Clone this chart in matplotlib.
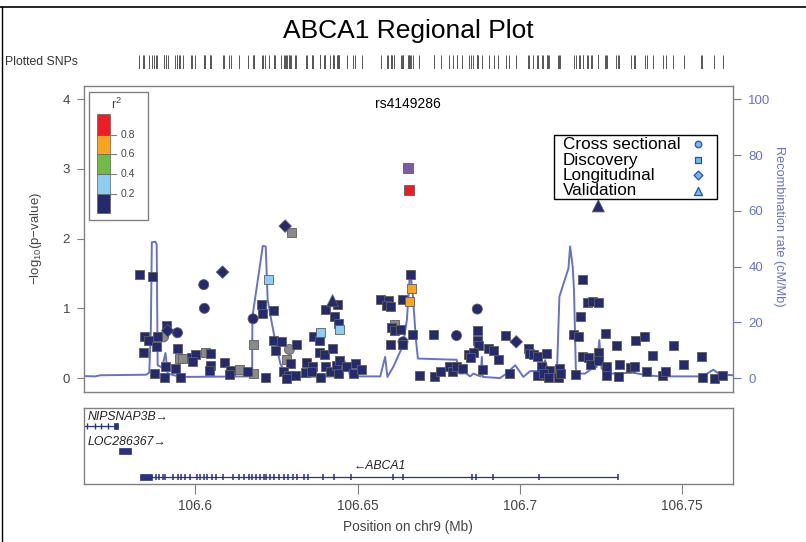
import numpy as np
import matplotlib
matplotlib.use("Agg")
import matplotlib.pyplot as plt
from matplotlib.lines import Line2D
from matplotlib.patches import Rectangle
import matplotlib.transforms as mtransforms

plt.rcParams['font.family'] = ['Liberation Sans', 'DejaVu Sans']
plt.rcParams['mathtext.fontset'] = 'custom'
plt.rcParams['mathtext.rm'] = 'Liberation Sans'
plt.rcParams['mathtext.it'] = 'Liberation Sans:italic'

# ---------------- data ----------------
# r2 = nan -> no LD information (grey)
disc_pos = [106.5828, 106.5867, 106.5843, 106.5856, 106.5882, 106.5880, 106.5839, 106.5874,
            106.5911, 106.5944, 106.5950, 106.5962, 106.5988, 106.6000, 106.5990,
            106.6031, 106.6048, 106.6046, 106.6044, 106.5905, 106.5909, 106.5938, 106.5954,
            106.6089, 106.6110, 106.6104, 106.6136, 106.6161, 106.6180, 106.6215,
            106.6205, 106.6208, 106.6241, 106.6226, 106.6180,
            106.6241, 106.6265, 106.6247, 106.6311, 106.6280, 106.6293, 106.6272, 106.6288,
            106.6308, 106.6344, 106.6361, 106.6341, 106.6359, 106.6282,
            106.6364, 106.6385, 106.6383, 106.6383, 106.6295, 106.6443,
            106.6400, 106.6439, 106.6428, 106.6441, 106.6398, 106.6424,
            106.6385, 106.6400, 106.6416, 106.6436, 106.6441, 106.6444, 106.6467, 106.6487,
            106.6493, 106.6513,
            106.6572, 106.6595, 106.6590, 106.6603, 106.6640, 106.6662, 106.6665, 106.6659,
            106.6613, 106.6606, 106.6613, 106.6633, 106.6603, 106.6670, 106.6638,
            106.6690, 106.6736, 106.6735,
            106.6869, 106.6869, 106.6872, 106.6842, 106.6857, 106.6849, 106.6905, 106.6920,
            106.6933, 106.6957,
            106.7026, 106.7029, 106.7042, 106.7055, 106.7083, 106.7067,
            106.6757, 106.6782, 106.6793, 106.6805, 106.6823, 106.6884, 106.6968, 106.7054,
            106.7083,
            106.7194, 106.7208, 106.7224, 106.7242, 106.7186, 106.7167, 106.7181, 106.7263,
            106.7091, 106.7073, 106.7088, 106.7119, 106.7122, 106.7124,
            106.7194, 106.7211, 106.7218, 106.7242, 106.7242, 106.7268, 106.7266, 106.7173,
            106.7304, 106.7297, 106.7306, 106.7342, 106.7352, 106.7356, 106.7385, 106.7391,
            106.7409, 106.7440, 106.7449, 106.7473, 106.7505, 106.7559, 106.7563, 106.7599,
            106.7626]
disc_logp = [1.49, 1.45, 0.59, 0.54, 0.59, 0.45, 0.36, 0.06,
             0.75, 0.43, 0.28, 0.28, 0.30, 0.34, 0.24,
             0.37, 0.35, 0.18, 0.11, 0.01, 0.16, 0.14, 0.01,
             0.23, 0.11, 0.05, 0.12, 0.10, 0.06, 0.01,
             1.06, 0.93, 0.97, 1.42, 0.48,
             0.54, 0.53, 0.39, 0.48, 0.27, 0.21, 0.10, 0.03,
             0.04, 0.22, 0.16, 0.08, 0.10, 0.00,
             0.60, 0.66, 0.54, 0.37, 2.09, 0.70,
             0.98, 1.05, 0.89, 0.78, 0.34, 0.43,
             0.01, 0.16, 0.09, 0.18, 0.06, 0.25, 0.17, 0.06,
             0.21, 0.12,
             1.13, 1.11, 1.04, 1.02, 1.13, 1.48, 1.28, 1.10,
             0.77, 0.73, 0.68, 0.70, 0.48, 0.62, 0.48,
             0.03, 0.02, 0.62,
             0.68, 0.54, 0.46, 0.34, 0.36, 0.30, 0.43, 0.40,
             0.27, 0.61,
             0.42, 0.35, 0.34, 0.31, 0.35, 0.17,
             0.10, 0.16, 0.10, 0.16, 0.14, 0.12, 0.07, 0.03,
             0.04,
             1.41, 1.08, 1.10, 1.08, 0.88, 0.62, 0.60, 0.64,
             0.11, 0.06, 0.01, 0.01, 0.13, 0.06,
             0.31, 0.30, 0.19, 0.37, 0.25, 0.17, 0.03, 0.05,
             0.02, 0.46, 0.20, 0.15, 0.17, 0.54, 0.60, 0.10,
             0.33, 0.03, 0.10, 0.46, 0.20, 0.31, 0.01, 0.00,
             0.04]
disc_r2 = [0.1] * len(disc_pos)
for i in (10, 11, 15, 26, 28, 34, 39, 53, 79):
    disc_r2[i] = np.nan
for i in (33, 50, 54):
    disc_r2[i] = 0.3
for i in (77, 78):
    disc_r2[i] = 0.7

cross_pos = [106.5902, 106.5945, 106.6026, 106.6028, 106.6178, 106.6290, 106.6640, 106.6805, 106.6869]
cross_logp = [0.59, 0.65, 1.34, 1.00, 0.85, 0.41, 0.52, 0.61, 0.99]
cross_r2 = [np.nan, 0.1, 0.1, 0.1, 0.1, np.nan, 0.1, 0.1, 0.1]

long_pos = [106.5915, 106.6084, 106.6277, 106.6989]
long_logp = [0.68, 1.52, 2.18, 0.52]
long_r2 = [0.1, 0.1, 0.1, 0.1]

valid_pos = [106.6423, 106.7242]
valid_logp = [1.11, 2.47]
valid_r2 = [0.1, 0.1]

lead_snp = "rs4149286"
lead_pos = 106.6656
lead_logp = 3.01
red_pos = [106.6659]
red_logp = [2.70]

# recombination rate (cM/Mb)
rec_pos = [106.5660, 106.5692, 106.5707, 106.5849, 106.5858, 106.5863, 106.5866, 106.5877,
           106.5881, 106.5884, 106.5898, 106.5908, 106.5915, 106.5954, 106.6175, 106.6176,
           106.6208, 106.6217, 106.6223, 106.6236, 106.6246, 106.6262, 106.6282, 106.6323,
           106.6440, 106.6457, 106.6471, 106.6477, 106.6570, 106.6585, 106.6592, 106.6610,
           106.6631, 106.6639, 106.6652, 106.6662, 106.6670, 106.6680, 106.6686, 106.6793,
           106.6805, 106.6816, 106.6834, 106.6847, 106.6857, 106.6879, 106.6883, 106.6886,
           106.6939, 106.6955, 106.6986, 106.7011, 106.7032, 106.7063, 106.7078, 106.7093,
           106.7114, 106.7122, 106.7150, 106.7155, 106.7163, 106.7167, 106.7173, 106.7201,
           106.7222, 106.7237, 106.7245, 106.7252, 106.7278, 106.7350, 106.7391, 106.7432,
           106.7555, 106.7574, 106.7596, 106.7617, 106.7658]
rec_rate = [0.7, 0.6, 1.0, 1.2, 2.0, 17.0, 48.7, 48.9,
            47.8, 4.6, 3.8, 9.0, 1.6, 0.4, 0.6, 22.0,
            47.4, 47.2, 28.0, 19.6, 13.6, 5.2, 0.4, 0.4,
            0.6, 6.4, 4.2, 0.6, 0.6, 7.6, 0.4, 4.0,
            9.4, 11.2, 20.8, 38.5, 30.4, 13.6, 7.0, 6.6,
            6.6, 1.6, 1.7, 0.6, 1.6, 0.6, 7.6, 0.4,
            0.0, 1.3, 4.6, 0.4, 2.5, 2.5, 6.4, 0.4,
            0.4, 29.2, 39.4, 47.2, 40.0, 31.6, 1.6, 1.6,
            3.4, 4.0, 13.6, 3.4, 1.6, 1.9, 1.0, 0.6,
            0.6, 1.3, 3.0, 1.3, 1.0]

# genes
nip_exons = [106.5666, 106.5690, 106.5710, 106.5731]
nip_block = (106.5749, 106.5763)
nip_span = (106.5657, 106.5763)
loc_block = (106.5765, 106.5802)
abca1_span = (106.5831, 106.7303)
abca1_block = (106.5831, 106.5868)
abca1_exons = [106.5878, 106.5889, 106.5900, 106.5908, 106.5930, 106.5946, 106.5955, 106.5969,
               106.5985, 106.6006, 106.6015, 106.6026, 106.6037, 106.6051, 106.6065, 106.6084,
               106.6117, 106.6136, 106.6150, 106.6164, 106.6174, 106.6188, 106.6199, 106.6212,
               106.6218, 106.6229, 106.6243, 106.6257, 106.6273, 106.6287, 106.6301, 106.6314,
               106.6335, 106.6346, 106.6394, 106.6427, 106.6479, 106.6610, 106.6640, 106.6853,
               106.6866, 106.6916, 106.7060, 106.7303]

x_ticks = [106.6, 106.65, 106.7, 106.75]
x_tick_labels = ["106.6", "106.65", "106.7", "106.75"]
r2_bounds = [0.2, 0.4, 0.6, 0.8]
r2_colors = ["#232a6e", "#8dcdf3", "#6cbc45", "#f9a51f", "#ee1c25"]
study_names = ["Cross sectional", "Discovery", "Longitudinal", "Validation"]
study_markers = ["o", "s", "D", "^"]

# ---------------- layout ----------------
W, H = 806, 542
fig = plt.figure(figsize=(W / 100, H / 100), dpi=100)


def rect(x0, y0, x1, y1):
    return [x0 / W, 1 - y1 / H, (x1 - x0) / W, (y1 - y0) / H]


XL = (106.5657, 106.7657)
GREY = "#808080"
TXT = "#444444"
REC = "#6673c4"

ax_rec = fig.add_axes(rect(84, 86, 733, 392))
ax = fig.add_axes(rect(84, 86, 733, 392), sharex=ax_rec)
ax.patch.set_visible(False)
ax_gene = fig.add_axes(rect(84, 408, 733, 484))
ax_snp = fig.add_axes(rect(84, 55, 733, 69))

# recombination axis (right)
ax_rec.plot(rec_pos, rec_rate, color=REC, lw=1.4, zorder=1)
ax_rec.set_xlim(*XL)
ax_rec.set_ylim(-5, 104.75)
ax_rec.yaxis.tick_right()
ax_rec.set_yticks([0, 20, 40, 60, 80, 100])
ax_rec.tick_params(axis='y', colors=REC, labelsize=9.5, length=6, width=0.8, pad=5)
ax_rec.tick_params(axis='x', bottom=False, labelbottom=False)
for s in ax_rec.spines.values():
    s.set_color(GREY)
    s.set_linewidth(1.0)

# association axis (left)
ax.set_ylim(-0.2, 4.19)
ax.set_yticks([0, 1, 2, 3, 4])
ax.tick_params(axis='y', colors=GREY, labelcolor=TXT, labelsize=9.5, length=5, width=0.8, pad=5)
ax.tick_params(axis='x', bottom=False, labelbottom=False)
for s in ax.spines.values():
    s.set_visible(False)


def r2_color(v):
    if np.isnan(v):
        return "#8a8a8a"
    return r2_colors[int(np.searchsorted(r2_bounds, v))]


groups = [(cross_pos, cross_logp, cross_r2, "o", 52),
          (disc_pos, disc_logp, disc_r2, "s", 42),
          (long_pos, long_logp, long_r2, "D", 40),
          (valid_pos, valid_logp, valid_r2, "^", 75)]
for pos, lp, r2, mk, size in groups:
    for grey_pass in (True, False):
        idx = [i for i in range(len(pos)) if np.isnan(r2[i]) == grey_pass]
        if not idx:
            continue
        order = sorted(idx, key=lambda i: 0 if np.isnan(r2[i]) else r2[i])
        ax.scatter([pos[i] for i in order], [lp[i] for i in order], marker=mk, s=size,
                   c=[r2_color(r2[i]) for i in order], edgecolors="#5e5e5e", linewidths=0.6,
                   zorder=3 if grey_pass else 4)

ax.scatter(red_pos, red_logp, marker="s", s=42, c=r2_colors[4], edgecolors="#5e5e5e",
           linewidths=0.6, zorder=5)
ax.scatter([lead_pos], [lead_logp], marker="s", s=42, c="#7d5aa6", edgecolors="#5e5e5e",
           linewidths=0.6, zorder=6)
ax.text(lead_pos, 0.941, lead_snp,
        transform=mtransforms.blended_transform_factory(ax.transData, ax.transAxes),
        ha="center", va="center", fontsize=10, color="black")

# r2 colour key
ax.add_patch(Rectangle((0.0077, 0.562), 0.0986 - 0.0077, 0.979 - 0.562, transform=ax.transAxes,
                       fill=False, edgecolor=GREY, lw=1.0, zorder=7))
key_edges = [0.584, 0.646, 0.711, 0.777, 0.840, 0.907]
for k in range(5):
    ax.add_patch(Rectangle((0.0196, key_edges[k]), 0.0205, key_edges[k + 1] - key_edges[k],
                           transform=ax.transAxes, facecolor=r2_colors[k], edgecolor="#5e5e5e",
                           lw=0.5, zorder=8))
for k, b in enumerate(r2_bounds):
    yy = key_edges[k + 1]
    ax.plot([0.0401, 0.0490], [yy, yy], transform=ax.transAxes, color=GREY, lw=0.8, zorder=8)
    ax.text(0.0570, yy, f"{b:.1f}", transform=ax.transAxes, ha="left", va="center",
            fontsize=7.5, color=TXT, zorder=8)
ax.text(0.051, 0.940, r"r$^2$", transform=ax.transAxes, ha="center", va="center",
        fontsize=9.5, color=TXT, zorder=8)

# study key
ax.add_patch(Rectangle((0.724, 0.631), 0.975 - 0.724, 0.840 - 0.631, transform=ax.transAxes,
                       facecolor="white", edgecolor="black", lw=1.0, zorder=7))
key_rows = [0.810, 0.758, 0.709, 0.657]
key_sizes = [22, 20, 20, 34]
for name, mk, yy, ms in zip(study_names, study_markers, key_rows, key_sizes):
    ax.text(0.738, yy, name, transform=ax.transAxes, ha="left", va="center",
            fontsize=12.3, color="black", zorder=8)
    ax.scatter([0.946], [yy], marker=mk, s=ms, transform=ax.transAxes, facecolor="#79b7ee",
               edgecolor="#1f50c8", linewidths=0.9, zorder=8)

# plotted SNP rug
all_pos = list(disc_pos) + list(cross_pos) + list(long_pos) + list(valid_pos) + red_pos + [lead_pos]
ax_snp.vlines(all_pos, 0, 1, color="#555555", lw=0.7)
ax_snp.set_xlim(*XL)
ax_snp.set_ylim(0, 1)
ax_snp.axis("off")
fig.text(5 / W, 1 - 62 / H, "Plotted SNPs", ha="left", va="center", fontsize=8.8, color="#333333")

# gene track
GC = "#27337f"
ax_gene.set_xlim(*XL)
ax_gene.set_ylim(0, 1)
ax_gene.set_yticks([])
ax_gene.set_xticks(x_ticks)
ax_gene.set_xticklabels(x_tick_labels)
ax_gene.tick_params(axis='x', colors=GREY, labelcolor=TXT, labelsize=9.8, length=7, width=0.8, pad=4)
for s in ax_gene.spines.values():
    s.set_color(GREY)
    s.set_linewidth(1.0)

y_nip, y_loc, y_abc = 0.763, 0.434, 0.092
ax_gene.hlines(y_nip, *nip_span, color=GC, lw=0.9)
ax_gene.vlines(nip_exons, y_nip - 0.035, y_nip + 0.035, color=GC, lw=1.0)
ax_gene.add_patch(Rectangle((nip_block[0], y_nip - 0.045), nip_block[1] - nip_block[0], 0.09,
                            facecolor=GC, edgecolor=GC, lw=0.5))
ax_gene.text(106.5669, 0.88, "NIPSNAP3B\u2192", style="italic", fontsize=8.8, ha="left",
             va="center", color="#222222")

ax_gene.add_patch(Rectangle((loc_block[0], y_loc - 0.045), loc_block[1] - loc_block[0], 0.09,
                            facecolor=GC, edgecolor=GC, lw=0.5))
ax_gene.text(106.5669, 0.55, "LOC286367\u2192", style="italic", fontsize=8.8, ha="left",
             va="center", color="#222222")

ax_gene.hlines(y_abc, *abca1_span, color=GC, lw=0.9)
ax_gene.vlines(abca1_exons, y_abc - 0.045, y_abc + 0.045, color=GC, lw=1.1)
ax_gene.add_patch(Rectangle((abca1_block[0], y_abc - 0.045), abca1_block[1] - abca1_block[0], 0.09,
                            facecolor=GC, edgecolor=GC, lw=0.5))
ax_gene.text(sum(abca1_span) / 2, 0.237, "\u2190ABCA1", style="italic", fontsize=8.8, ha="center",
             va="center", color="#222222")

# titles and axis labels
fig.text(408 / W, 1 - 31 / H, "ABCA1 Regional Plot", ha="center", va="center", fontsize=19, color="black")
fig.text(36 / W, 1 - 239 / H, r"$-$log$_{10}$(p$-$value)", rotation=90, ha="center", va="center",
         fontsize=9.5, color=TXT)
fig.text(779 / W, 1 - 226 / H, "Recombination rate (cM/Mb)", rotation=270, ha="center", va="center",
         fontsize=9.2, color=REC)
fig.text(408 / W, 1 - 527 / H, "Position on chr9 (Mb)", ha="center", va="center", fontsize=9.8, color=TXT)

# outer border lines
fig.add_artist(Line2D([0, 1], [1 - 7 / H, 1 - 7 / H], transform=fig.transFigure, color="black", lw=1.2))
fig.add_artist(Line2D([1.5 / W, 1.5 / W], [0, 1 - 7 / H], transform=fig.transFigure, color="black", lw=1.0))

fig.savefig("out.png", dpi=100)
